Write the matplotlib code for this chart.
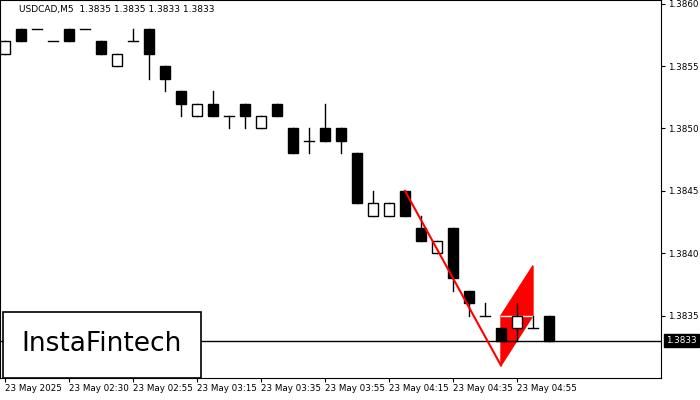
import matplotlib
matplotlib.use("Agg")
import matplotlib.pyplot as plt
from matplotlib.patches import Rectangle, Polygon

opens  = [1.3856,1.3858,1.3858,1.3857,1.3858,1.3858,1.3857,1.3855,1.3857,1.3858,1.3855,1.3853,1.3851,1.3852,1.3851,1.3852,1.3850,1.3852,1.3850,1.3849,1.3850,1.3850,1.3848,1.3843,1.3843,1.3845,1.3842,1.3840,1.3842,1.3837,1.3835,1.3834,1.3834,1.3834,1.3835]
closes = [1.3857,1.3857,1.3858,1.3857,1.3857,1.3858,1.3856,1.3856,1.3857,1.3856,1.3854,1.3852,1.3852,1.3851,1.3851,1.3851,1.3851,1.3851,1.3848,1.3849,1.3849,1.3849,1.3844,1.3844,1.3844,1.3843,1.3841,1.3841,1.3838,1.3836,1.3835,1.3833,1.3835,1.3834,1.3833]
highs  = [1.3857,1.3858,1.3858,1.3857,1.3858,1.3858,1.3857,1.3856,1.3858,1.3858,1.3855,1.3853,1.3852,1.3853,1.3851,1.3852,1.3851,1.3852,1.3850,1.3850,1.3852,1.3850,1.3848,1.3845,1.3844,1.3845,1.3843,1.3841,1.3842,1.3837,1.3836,1.3834,1.3836,1.3835,1.3835]
lows   = [1.3856,1.3857,1.3858,1.3857,1.3857,1.3858,1.3856,1.3855,1.3857,1.3854,1.3853,1.3851,1.3851,1.3851,1.3850,1.3850,1.3850,1.3851,1.3848,1.3848,1.3849,1.3848,1.3844,1.3843,1.3843,1.3843,1.3841,1.3840,1.3837,1.3835,1.3835,1.3833,1.3833,1.3834,1.3833]
tick_idx = [0,4,8,12,16,20,24,28,32]
tick_labels = ["23 May 2025","23 May 02:30","23 May 02:55","23 May 03:15","23 May 03:35","23 May 03:55","23 May 04:15","23 May 04:35","23 May 04:55"]
pole = [(25,1.3845),(31,1.3831)]
flag = [(31,1.3831),(31,1.3835),(33,1.3839),(33,1.3835)]
last_price = 1.3833

fig = plt.figure(figsize=(7,4),dpi=100)
ax = fig.add_axes([0,0.055,661/700,0.945])
ax.set_xlim(-0.31,41)
ax.set_ylim(1.3830,1.38603)
w=0.68
ax.add_patch(Polygon(flag,closed=True,facecolor='red',edgecolor='red',lw=1,zorder=1))
ax.plot([flag[1][0],flag[3][0]],[flag[1][1],flag[3][1]],color='white',lw=1,zorder=1.5)
for i,(o,c,h,l) in enumerate(zip(opens,closes,highs,lows)):
    ax.plot([i,i],[l,h],color='black',lw=1,zorder=2)
    lo,hi=min(o,c),max(o,c)
    if hi-lo<1e-7:
        ax.plot([i-w/2,i+w/2],[o,o],color='black',lw=1,zorder=3)
    else:
        ax.add_patch(Rectangle((i-w/2,lo),w,hi-lo,facecolor='black' if c<o else 'white',edgecolor='black',lw=1,zorder=3))
ax.plot([p[0] for p in pole],[p[1] for p in pole],color='red',lw=1.5,zorder=4)
ax.axhline(last_price,color='black',lw=1,zorder=1)
ax.yaxis.tick_right()
ax.set_yticks([1.3835,1.3840,1.3845,1.3850,1.3855,1.3860])
ax.set_yticklabels(["1.3835","1.3840","1.3845","1.3850","1.3855","1.3860"])
ax.set_xticks(tick_idx)
ax.set_xticklabels(tick_labels,ha='left')
ax.tick_params(labelsize=6.3,length=3,pad=2)
ax.tick_params(axis='x',pad=1)
ax.text(1.008,(last_price-1.3830)/(0.00303),"1.3833",transform=ax.transAxes,fontsize=6.3,color='white',va='center',ha='left',
        bbox=dict(facecolor='black',edgecolor='black',pad=1.5),clip_on=False)
ax.text(0.028,0.975,"USDCAD,M5  1.3835 1.3835 1.3833 1.3833",transform=ax.transAxes,fontsize=6.5,va='center')
fig.patches.append(Rectangle((3/700,22/400),198/700,66/400,transform=fig.transFigure,facecolor='white',edgecolor='black',lw=1.2,zorder=10))
fig.text(102/700,56/400,"InstaFintech",fontsize=19,ha='center',va='center',zorder=11)
fig.savefig("out.png")
